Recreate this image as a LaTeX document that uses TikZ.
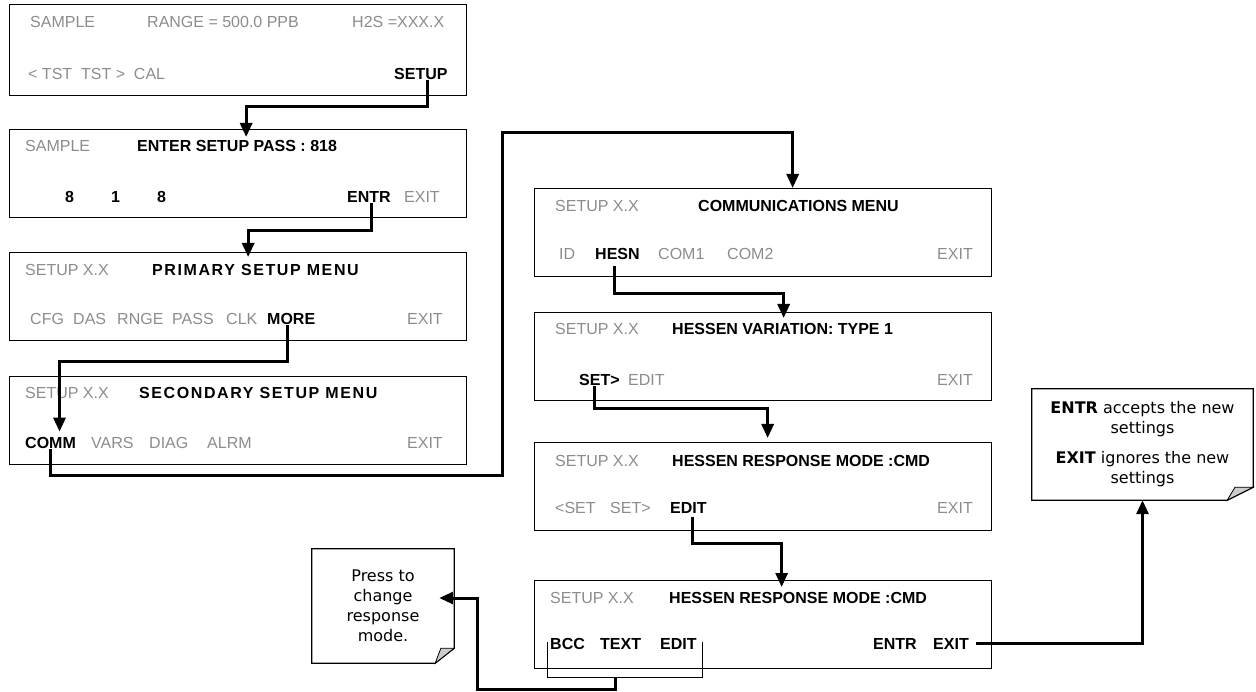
\documentclass[tikz,border=0pt]{standalone}
\usepackage{fontspec}
\setmainfont{Liberation Sans}
\newfontfamily\notefont{DejaVu Sans}
\usetikzlibrary{arrows.meta}
\definecolor{keygray}{gray}{0.55}
\definecolor{flapgray}{gray}{0.8}
\tikzset{
    lcd/.style={font=\fontsize{16}{19}\selectfont, inner sep=0pt, anchor=base west},
    dim/.style={lcd, text=keygray},
    hot/.style={lcd, font=\fontsize{16}{19}\selectfont\bfseries},
    spaced/.style={lcd, font=\fontsize{16}{19}\selectfont\bfseries\addfontfeature{LetterSpace=10}},
    panel/.style={draw, line width=1.3pt, minimum width=457pt, minimum height=88pt, inner sep=0pt, anchor=north west},
    memo/.style={font=\notefont\fontsize{16}{20}\selectfont, align=center, inner sep=0pt},
    flow/.style={line width=3pt, -{Triangle[length=14pt,width=12pt]}},
    bracket/.style={line width=1pt}
}
% note sheet with a turned-down corner: node, flap width, flap height
\newcommand\dogear[3]{%
    \draw[line width=1.3pt] (#1.north west) -- (#1.north east) -- ([yshift=#3pt]#1.south east)
        -- ([xshift=-#2pt]#1.south east) -- (#1.south west) -- cycle;
    \draw[line width=0.8pt, fill=flapgray] ([yshift=#3pt]#1.south east) -- ([xshift=-#2pt]#1.south east)
        -- ([xshift=-0.7*#2pt, yshift=#3pt]#1.south east) -- cycle;}
\begin{document}
\begin{tikzpicture}[x=1pt, y=-1pt]
    \useasboundingbox (0,0) rectangle (1256,692);

    % sample display
    \node[panel, minimum height=91pt] (samplebox) at (9,4) {};
    \node[dim] (sampletag) at (30,28) {SAMPLE};
    \node[dim] (rangetag) at (147,28) {RANGE = 500.0 PPB};
    \node[dim] (conctag) at (352,28) {H2S =XXX.X};
    \node[dim] (tstkeys) at (28,80) {< TST\ \ TST >\ \ CAL};
    \node[hot] (setupkey) at (394,80) {SETUP};

    % password
    \node[panel] (passbox) at (9,129) {};
    \node[dim] (passtag) at (25,152) {SAMPLE};
    \node[hot] (passtitle) at (137,152) {ENTER SETUP PASS : 818};
    \foreach \d/\x in {8/65,1/111,8/157}
        \node[hot] (digit\x) at (\x,203) {\d};
    \node[hot] (entrkey) at (347,203) {ENTR};
    \node[dim] (passexit) at (404,203) {EXIT};

    % primary setup menu
    \node[panel] (primarybox) at (9,252) {};
    \node[dim] (primarytag) at (25,276) {SETUP X.X};
    \node[spaced] (primarytitle) at (152,276) {PRIMARY SETUP MENU};
    \foreach \t/\x in {CFG/30,DAS/73,RNGE/117,PASS/172,CLK/226}
        \node[dim] (primary-\t) at (\x,325) {\t};
    \node[hot] (morekey) at (267,325) {MORE};
    \node[dim] (primaryexit) at (407,325) {EXIT};

    % secondary setup menu
    \node[panel] (secondbox) at (9,376) {};
    \node[dim] (secondtag) at (25,399) {SETUP X.X};
    \node[spaced] (secondtitle) at (139,399) {SECONDARY SETUP MENU};
    \node[hot] (commkey) at (25,449) {COMM};
    \foreach \t/\x in {VARS/91,DIAG/149,ALRM/207}
        \node[dim] (second-\t) at (\x,449) {\t};
    \node[dim] (secondexit) at (407,449) {EXIT};

    % communications menu
    \node[panel] (commsbox) at (534,188) {};
    \node[dim] (commstag) at (555,212) {SETUP X.X};
    \node[hot] (commstitle) at (698,212) {COMMUNICATIONS MENU};
    \node[dim] (idkey) at (559,260) {ID};
    \node[hot] (hesnkey) at (595,260) {HESN};
    \node[dim] (com1key) at (658,260) {COM1};
    \node[dim] (com2key) at (727,260) {COM2};
    \node[dim] (commsexit) at (937,260) {EXIT};

    % hessen variation
    \node[panel] (varbox) at (534,312) {};
    \node[dim] (vartag) at (555,335) {SETUP X.X};
    \node[hot] (vartitle) at (672,335) {HESSEN VARIATION: TYPE 1};
    \node[hot] (setfwd) at (579,386) {SET>};
    \node[dim] (varedit) at (628,386) {EDIT};
    \node[dim] (varexit) at (937,386) {EXIT};

    % response mode
    \node[panel] (modebox) at (534,442) {};
    \node[dim] (modetag) at (555,466) {SETUP X.X};
    \node[hot] (modetitle) at (672,466) {HESSEN RESPONSE MODE :CMD};
    \node[dim] (setback) at (555,513) {<SET};
    \node[dim] (setnext) at (610,513) {SET>};
    \node[hot] (editkey) at (670,513) {EDIT};
    \node[dim] (modeexit) at (937,513) {EXIT};

    % response mode, edit
    \node[panel] (cmdbox) at (534,580) {};
    \node[dim] (cmdtag) at (550,603) {SETUP X.X};
    \node[hot] (cmdtitle) at (669,603) {HESSEN RESPONSE MODE :CMD};
    \node[hot] (bcckey) at (550,649) {BCC};
    \node[hot] (textkey) at (600,649) {TEXT};
    \node[hot] (editbkey) at (660,649) {EDIT};
    \node[hot] (entrbkey) at (873,649) {ENTR};
    \node[hot] (exitbkey) at (933,649) {EXIT};

    % notes
    \node[memo, minimum width=142pt, minimum height=114pt] (presstip) at (383,606)
        {Press to\\change\\response\\mode.};
    \dogear{presstip}{19}{15}
    \node[memo, minimum width=221pt, minimum height=111pt] (acceptnote) at (1142.5,444.5)
        {\textbf{ENTR} accepts the new\\settings\\[10pt]\textbf{EXIT} ignores the new\\settings};
    \dogear{acceptnote}{26}{13}

    % key presses
    \coordinate (riser) at (502,133);
    \coordinate (bracketmid) at (615,677);
    \coordinate (elbow) at (477,689);
    \draw[flow] ([xshift=7pt]setupkey.south) -- ++(0,26) -| ([xshift=8pt,yshift=-8pt]passbox.north);
    \draw[flow] ([xshift=3pt]entrkey.south) -- ++(0,27) -| ([xshift=10pt,yshift=-5pt]primarybox.north);
    \draw[flow] ([xshift=-4pt]morekey.south) -- ++(0,36) -| ([xshift=9pt,yshift=6pt]commkey.north);
    \draw[flow] (commkey.south) -- ++(0,26) -| (riser) -| ([xshift=29.5pt]commsbox.north);
    \draw[flow] ([xshift=-3pt,yshift=-6pt]hesnkey.south) -- ++(0,27) -| ([xshift=20.5pt,yshift=-6pt]varbox.north);
    \draw[flow] ([xshift=-5pt]setfwd.south) -- ++(0,22) -| ([xshift=4.5pt,yshift=4pt]modebox.north);
    \draw[flow] ([xshift=4pt,yshift=-4pt]editkey.south) -- ++(0,26) -| ([xshift=18.5pt,yshift=-7pt]cmdbox.north);
    \draw[bracket] ([shift={(-3pt,7pt)}]bcckey.base west) -- ++(0,35) -| ([shift={(6pt,7pt)}]editbkey.base east);
    \draw[flow] (bracketmid) |- (elbow) |- ([shift={(-15pt,8pt)}]presstip.east);
    \draw[flow] ([xshift=7pt]exitbkey.east) -| (acceptnote.south);
\end{tikzpicture}
\end{document}
